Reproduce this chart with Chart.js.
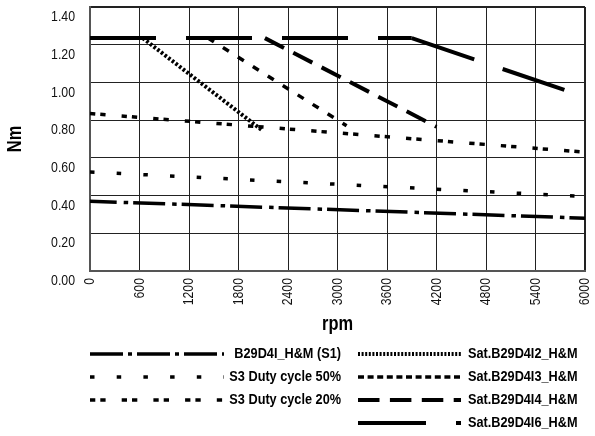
<!DOCTYPE html>
<html><head><meta charset="utf-8">
<script src="https://cdn.jsdelivr.net/npm/chart.js@4"></script>
<style>html,body{margin:0;padding:0;background:#fff;}canvas{display:block;}</style>
</head><body>
<canvas id="c" width="595" height="436"></canvas>
<script>
// ---- data ----
const rpmTicks = [0, 600, 1200, 1800, 2400, 3000, 3600, 4200, 4800, 5400, 6000];
const rpmTickLabels = ['0', '600', '1200', '1800', '2400', '3000', '3600', '4200', '4800', '5400', '6000'];
const nmTicks = [0, 0.2, 0.4, 0.6, 0.8, 1.0, 1.2, 1.4];
const nmTickLabels = ['0.00', '0.20', '0.40', '0.60', '0.80', '1.00', '1.20', '1.40'];
const seriesNames = ['B29D4I_H&M (S1)', 'S3 Duty cycle 50%', 'S3 Duty cycle 20%',
  'Sat.B29D4I2_H&M', 'Sat.B29D4I3_H&M', 'Sat.B29D4I4_H&M', 'Sat.B29D4I6_H&M'];
const s1Rpm = [0, 6000];          const s1Nm = [0.37, 0.28];
const s3d50Rpm = [0, 6000];       const s3d50Nm = [0.525, 0.395];
const s3d20Rpm = [0, 6000];       const s3d20Nm = [0.835, 0.63];
const satI2Rpm = [640, 2090];     const satI2Nm = [1.235, 0.745];
const satI3Rpm = [1430, 3110];    const satI3Nm = [1.235, 0.77];
const satI4Rpm = [2120, 4200];    const satI4Nm = [1.235, 0.765];
const satI6Rpm = [0, 3900, 5750]; const satI6Nm = [1.235, 1.235, 0.96];

// ---- condensed font (real narrow face if present, otherwise horizontally squeezed Liberation Sans) ----
function hasFont(name) {
  const c = document.createElement('canvas').getContext('2d');
  const s = 'abcdefghijklmnopqrstuvwxyz0123456789';
  c.font = '72px monospace'; const a = c.measureText(s).width;
  c.font = "72px '" + name + "', monospace"; const b = c.measureText(s).width;
  return Math.abs(a - b) > 0.5;
}
const NARROW = hasFont('Liberation Sans Narrow');
const FONT = NARROW ? "'Liberation Sans Narrow', sans-serif" : "'Liberation Sans', Arial, sans-serif";
const SQUEEZE = NARROW ? 1 : 0.82;
Chart.defaults.font.family = FONT;
Chart.defaults.color = '#111';

const squeezePlugin = {
  id: 'squeeze',
  beforeInit(chart) {
    if (SQUEEZE === 1) return;
    const ctx = chart.ctx;
    const orig = CanvasRenderingContext2D.prototype.fillText;
    ctx.fillText = function (text, x, y, maxWidth) {
      this.save();
      this.translate(x, y);
      this.scale(SQUEEZE, 1);
      if (maxWidth === undefined || maxWidth === null) orig.call(this, text, 0, 0);
      else orig.call(this, text, 0, 0, maxWidth / SQUEEZE);
      this.restore();
    };
  }
};

function mk(label, xs, ys, width, dash, offset, legendDash) {
  const base = offset || 0;
  return {
    label,
    data: xs.map((x, i) => ({ x, y: ys[i] })),
    borderColor: '#000', backgroundColor: '#000', borderWidth: width,
    borderDash: dash, borderDashOffset: base, legendDash: legendDash || dash,
    pointRadius: 0, pointHoverRadius: 0, tension: 0, fill: false,
    borderCapStyle: 'butt', borderJoinStyle: 'miter',
    // restart the dash pattern at every data point (one sub-path per segment)
    segment: { borderDashOffset: c => base + (c.p0DataIndex % 2) * 0.001 }
  };
}

const datasets = [
  mk(seriesNames[0], s1Rpm, s1Nm, 3.5, [32, 7, 4.5, 5], 5.3, [33, 5, 4, 5]),
  mk(seriesNames[1], s3d50Rpm, s3d50Nm, 3.5, [4.5, 22.2]),
  mk(seriesNames[2], s3d20Rpm, s3d20Nm, 3.5, [5.3, 5, 5.3, 16.1]),
  mk(seriesNames[3], satI2Rpm, satI2Nm, 4, [2.6, 2], 0, [2, 1.6]),
  mk(seriesNames[4], satI3Rpm, satI3Nm, 3.5, [7, 10.7], 0, [6, 3.6]),
  mk(seriesNames[5], satI4Rpm, satI4Nm, 4, [21.5, 10.4]),
  mk(seriesNames[6], satI6Rpm, satI6Nm, 4, [66, 30], 0, [68, 30])
];

const legendPlugin = {
  id: 'sideLegend',
  afterDraw(chart) {
    const ctx = chart.ctx;
    const rows = [354, 377, 400, 423];
    chart.data.datasets.forEach((d, i) => {
      const left = i < 3;
      const y = rows[left ? i : i - 3];
      const x0 = left ? 90 : 358, x1 = left ? 224 : 461;
      ctx.save();
      ctx.strokeStyle = d.borderColor;
      ctx.lineWidth = d.borderWidth;
      ctx.lineCap = 'butt';
      ctx.setLineDash(d.legendDash);
      ctx.lineDashOffset = 0;
      ctx.beginPath(); ctx.moveTo(x0, y); ctx.lineTo(x1, y); ctx.stroke();
      ctx.setLineDash([]);
      ctx.fillStyle = '#000';
      ctx.font = 'bold 15.5px ' + FONT;
      ctx.textBaseline = 'middle';
      ctx.textAlign = left ? 'right' : 'left';
      ctx.fillText(d.label, left ? 341 : 468, y);
      ctx.restore();
    });
  }
};

new Chart(document.getElementById('c'), {
  type: 'line',
  data: { datasets },
  plugins: [squeezePlugin, legendPlugin],
  options: {
    responsive: false, animation: false, devicePixelRatio: 1,
    layout: { padding: { top: 7, right: 10, bottom: 100, left: 0 } },
    plugins: { legend: { display: false }, tooltip: { enabled: false } },
    scales: {
      x: {
        type: 'linear', min: 0, max: 6000,
        afterBuildTicks: s => { s.ticks = rpmTicks.map(v => ({ value: v })); },
        afterFit: s => { s.height = 65; s.paddingLeft = 0; s.paddingRight = 0; },
        ticks: { autoSkip: false, maxRotation: 90, minRotation: 90, padding: 7,
          font: { size: 15 }, color: '#111', callback: (v, i) => rpmTickLabels[i] },
        grid: { color: '#222', lineWidth: c => (c.tick && c.tick.value === 6000) ? 2 : 1, drawTicks: false },
        border: { display: true, color: '#555', width: 2 },
        title: { display: true, text: 'rpm', color: '#000', font: { size: 20, weight: 'bold' }, padding: { top: 0, bottom: 0 } }
      },
      y: {
        type: 'linear', min: 0, max: 1.4,
        afterBuildTicks: s => { s.ticks = nmTicks.map(v => ({ value: v })); },
        afterFit: s => { s.width = 90; s.paddingTop = 0; s.paddingBottom = 0; },
        ticks: { padding: 15, labelOffset: 10, font: { size: 15 }, color: '#111',
          callback: (v, i) => nmTickLabels[i] },
        grid: { color: '#222', lineWidth: c => (c.tick && c.tick.value === 1.4) ? 2 : 1, drawTicks: false },
        border: { display: true, color: '#555', width: 2 },
        title: { display: true, text: 'Nm', color: '#000', font: { size: 20, weight: 'bold' }, padding: { top: 3.5, bottom: 0 } }
      }
    }
  }
});
</script>
</body></html>
